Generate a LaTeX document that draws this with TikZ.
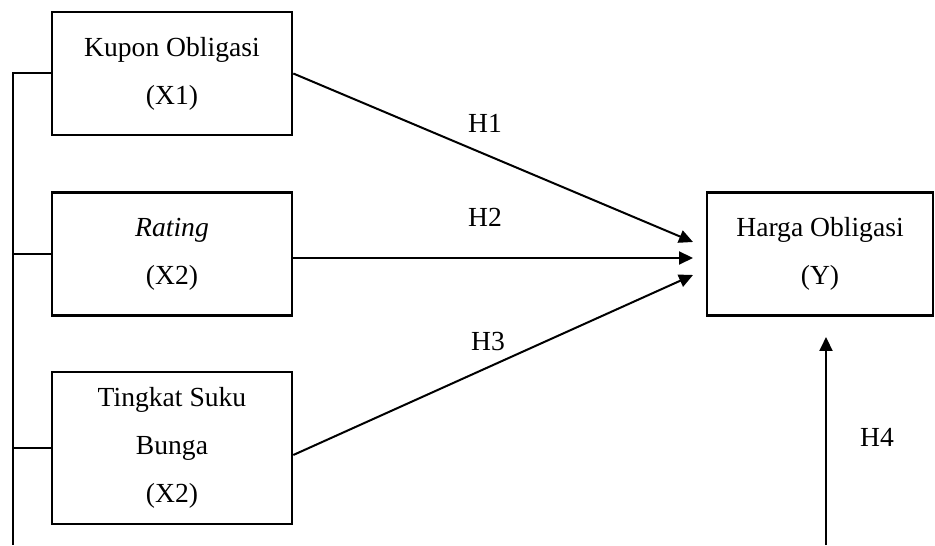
\documentclass[tikz,border=0pt]{standalone}
\usepackage{fontspec}
\setmainfont{Liberation Serif}
\usetikzlibrary{positioning,arrows.meta,calc}

\begin{document}
\begin{tikzpicture}[x=0.5pt,y=0.5pt,
  var/.style={draw,line width=1.3pt,minimum width=120pt,minimum height=61.5pt,align=center,inner sep=0pt,font=\fontsize{13.8}{24}\selectfont},
  hyp/.style={font=\fontsize{13.8}{16}\selectfont},
  ar/.style={-{Triangle[length=7pt,width=6.5pt]},line width=1pt},
  ln/.style={line width=1pt}]
\useasboundingbox (0,0) rectangle (935,545);
\node[var] (kupon) at (172,471.5) {Kupon Obligasi\\(X1)};
\node[var] (rating) at (172,291) {\textit{Rating}\\(X2)};
\node[var,minimum height=76pt] (bunga) at (172,97) {Tingkat Suku\\Bunga\\(X2)};
\node[var,minimum width=113pt] (harga) at (820,291) {Harga Obligasi\\(Y)};
% arrow ends in front of Y
\coordinate (e1) at (693,303);
\coordinate (e2) at (693,287);
\coordinate (e3) at (693,270);
\coordinate (base) at (13,0);
\coordinate (h4a) at (826,0);
\coordinate (h4b) at (826,208);
\draw[ar] (kupon.east) -- (e1);
\draw[ar] (rating.east |- e2) -- (e2);
\draw[ar] ([yshift=-3.5pt]bunga.east) -- (e3);
\draw[ar] (h4a) -- (h4b);
% left bracket
\draw[ln] (kupon.west) -| (base);
\foreach \n in {rating,bunga} \draw[ln] (\n.west) -- (\n.west -| base);
\node[hyp] (l1) at (485,422) {H1};
\node[hyp] (l2) at (485,328) {H2};
\node[hyp] (l3) at (488,203) {H3};
\node[hyp] (l4) at (877,108) {H4};
\end{tikzpicture}
\end{document}
